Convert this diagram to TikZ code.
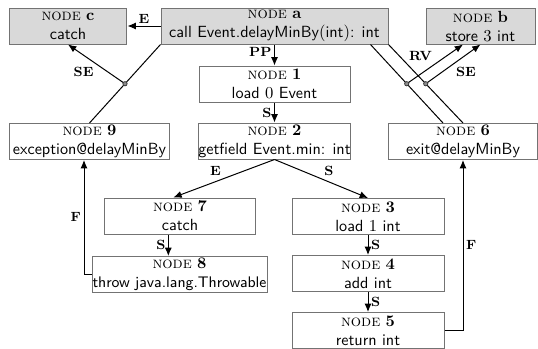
\documentclass[tikz,border=0pt]{standalone}
\usetikzlibrary{arrows.meta,calc}
\begin{document}
\begin{tikzpicture}[x=0.6pt,y=-0.6pt,
  box/.style={draw=black!55, line width=0.6pt, inner sep=0pt, align=center,
    minimum height=21.6pt, font=\sffamily\fontsize{9.7}{11.4}\selectfont},
  gbox/.style={box, fill=black!15},
  edge/.style={-{Latex[length=5pt,width=4.2pt]}, line width=0.6pt},
  hline/.style={line width=0.6pt},
  lab/.style={font=\rmfamily\bfseries\footnotesize, inner sep=1.5pt},
  hdot/.style={circle, fill=black!45, draw=black!80, line width=0.4pt,
    inner sep=0pt, minimum size=2.6pt}]
\useasboundingbox (0,0) rectangle (538,349);
\newcommand{\nd}[1]{{\rmfamily\textsc{node} \textbf{#1}}}
% nodes
\node[gbox, minimum width=70.8pt] (c) at (68,26) {\nd{c}\\catch};
\node[gbox, minimum width=136.2pt] (a) at (274.5,26) {\nd{a}\\call Event.delayMinBy$($int$)$: int};
\node[gbox, minimum width=65.4pt] (b) at (480.5,26) {\nd{b}\\store $3$ int};
\node[box, minimum width=90.6pt] (n1) at (274.5,84) {\nd{1}\\load $0$ Event};
\node[box, minimum width=90.6pt] (n2) at (274.5,141) {\nd{2}\\getfield Event.min: int};
\node[box, minimum width=96.6pt] (n9) at (89.5,141.5) {\nd{9}\\exception@delayMinBy};
\node[box, minimum width=89.4pt] (n6) at (463,141.5) {\nd{6}\\exit@delayMinBy};
\node[box, minimum width=90.6pt] (n7) at (180,216) {\nd{7}\\catch};
\node[box, minimum width=91.2pt] (n3) at (368,216.5) {\nd{3}\\load $1$ int};
\node[box, minimum width=105pt] (n8) at (179.5,274.5) {\nd{8}\\{\fontsize{9.2}{11.4}\selectfont throw java.lang.Throwable}};
\node[box, minimum width=91.2pt] (n4) at (368,273.5) {\nd{4}\\add int};
\node[box, minimum width=91.2pt] (n5) at (368,330.5) {\nd{5}\\return int};
% edges
\draw[edge] (a.west) -- node[lab,above]{E} (c.east);
\draw[edge] (a.south) -- node[lab,left,pos=0.35]{PP} (n1.north);
\draw[edge] (n1.south) -- node[lab,left]{S} (n2.north);
\draw[edge] (n2.south) -- node[lab,above left]{E} ([xshift=-4pt]n7.north);
\draw[edge] (n2.south) -- node[lab,above right]{S} (n3.north);
\draw[edge] ([xshift=-7pt]n7.south) -- node[lab,left]{S} ([xshift=-7pt]n7.south |- n8.north);
\draw[edge] (n3.south) -- node[lab,right]{S} (n4.north);
\draw[edge] (n4.south) -- node[lab,right]{S} (n5.north);
\draw[edge] (n8.west) -| node[lab,left,pos=0.75]{F} ([xshift=-3.3pt]n9.south);
\draw[edge] (n5.east) -| node[lab,right,pos=0.75]{F} (n6.south);
% hyperedges
\draw[hline] (a.south west) -- coordinate[pos=0.5](h1) (n9.north);
\draw[hline] ([xshift=-10.8pt]a.south east) -- coordinate[pos=0.5](h2) ([xshift=-12pt]n6.north);
\draw[hline] (a.south east) -- coordinate[pos=0.5](h3) (n6.north);
\draw[edge] (h1) -- node[lab,below left]{SE} (c.south);
\draw[edge] (h2) -- node[lab,above left]{RV} ([xshift=-10.5pt]b.south);
\draw[edge] (h3) -- node[lab,below right]{SE} (b.south);
\node[hdot] (d1) at (h1) {};
\node[hdot] (d2) at (h2) {};
\node[hdot] (d3) at (h3) {};
\end{tikzpicture}
\end{document}
